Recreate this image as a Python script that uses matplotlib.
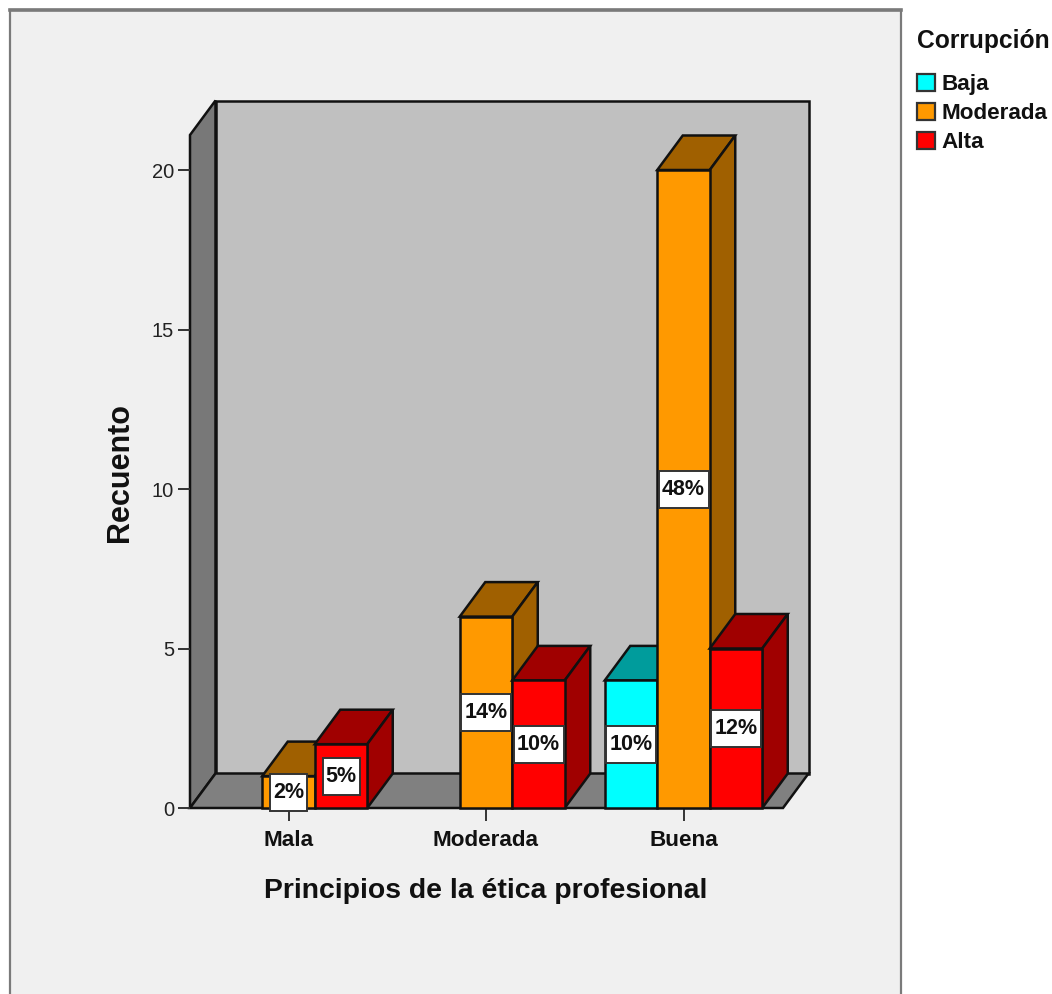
import matplotlib
matplotlib.use("Agg")
import matplotlib.pyplot as plt
from matplotlib.patches import Polygon, Rectangle, Patch

categories = ["Mala", "Moderada", "Buena"]
series = ["Baja", "Moderada", "Alta"]
baja = [0, 0, 4]
moderada = [1, 6, 20]
alta = [2, 4, 5]
pct_baja = ["", "", "10%"]
pct_moderada = ["2%", "14%", "48%"]
pct_alta = ["5%", "10%", "12%"]
y_ticks = [0, 5, 10, 15, 20]

front = ["#00FFFF", "#FF9900", "#FF0000"]
shade = ["#009C9C", "#A06000", "#A00000"]
EDGE = "#111111"
FONT = "Liberation Sans"

W, H = 1052, 994
fig = plt.figure(figsize=(W / 100, H / 100), dpi=100, facecolor="white")
plt.rcParams["font.family"] = FONT

# outer panel
fig.add_artist(Rectangle((10 / W, -0.01), 891 / W, 1 - 10 / H + 0.01, transform=fig.transFigure,
                         facecolor="#F0F0F0", edgecolor="#7A7A7A", linewidth=1.6, zorder=-5))
fig.add_artist(plt.Line2D([10 / W, 901 / W], [1 - 10 / H] * 2, color="#7A7A7A", lw=2.6, zorder=-4))

L, R, T, B = 190, 783, 135, 808
ax = fig.add_axes([L / W, 1 - B / H, (R - L) / W, (B - T) / H], facecolor="none")
PX_X = 197.5          # pixels per category
PX_Y = 31.9           # pixels per count
ax.set_xlim((L - 288.5) / PX_X, (R - 288.5) / PX_X)
ax.set_ylim(0, (B - T) / PX_Y)
x0, x1 = ax.get_xlim()
y0, y1 = ax.get_ylim()
dx, dy = 25.5 / PX_X, 34.5 / PX_Y
bw = 52.5 / PX_X


def poly(pts, fc, z=2, lw=1.8):
    ax.add_patch(Polygon(pts, closed=True, facecolor=fc, edgecolor=EDGE, linewidth=lw,
                         joinstyle="miter", clip_on=False, zorder=z))


# walls and floor
poly([(x0 + dx, y0 + dy), (x1 + dx, y0 + dy), (x1 + dx, y1 + dy), (x0 + dx, y1 + dy)], "#C0C0C0", 1)
poly([(x0, y0), (x0 + dx, y0 + dy), (x0 + dx, y1 + dy), (x0, y1)], "#787878", 1)
poly([(x0, y0), (x1, y0), (x1 + dx, y0 + dy), (x0 + dx, y0 + dy)], "#808080", 1)

z = 3
labels = []
for c in range(len(categories)):
    for s, (vals, pcts) in enumerate(zip((baja, moderada, alta), (pct_baja, pct_moderada, pct_alta))):
        v = vals[c]
        if v == 0:
            continue
        a = c + (s - 1.5) * bw
        b = a + bw
        poly([(a, v), (b, v), (b + dx, v + dy), (a + dx, v + dy)], shade[s], z)
        poly([(b, 0), (b + dx, dy), (b + dx, v + dy), (b, v)], shade[s], z)
        ax.add_patch(Rectangle((a, 0), bw, v, facecolor=front[s], edgecolor=EDGE, linewidth=1.8,
                               clip_on=False, zorder=z))
        z += 1
        labels.append(((a + b) / 2, v / 2, pcts[c]))

for xc, yc, t in labels:
    hw = (25.0 if len(t) > 2 else 18.5) / PX_X
    hh = 18.5 / PX_Y
    ax.add_patch(Rectangle((xc - hw, yc - hh), 2 * hw, 2 * hh, facecolor="white", edgecolor="#333333",
                           linewidth=1.4, clip_on=False, zorder=50))
    ax.text(xc, yc, t, ha="center", va="center", fontsize=15.5, fontweight="bold", color="#111111",
            family=FONT, zorder=51, clip_on=False)

for sp in ax.spines.values():
    sp.set_visible(False)
ax.set_xticks(range(len(categories)), categories)
ax.set_yticks(y_ticks)
ax.tick_params(axis="x", length=9.5, width=1.4, color="#333333", pad=6, labelsize=16.2)
ax.tick_params(axis="y", length=8.5, width=1.4, color="#333333", pad=3, labelsize=14.5, labelcolor="#222222")
for tl in ax.get_xticklabels():
    tl.set_fontweight("bold")
    tl.set_color("#111111")

ax.set_xlabel("Principios de la ética profesional", fontsize=20.4, fontweight="bold", color="#111111", va="center")
ax.xaxis.set_label_coords(0.499, -0.1230)
ax.set_ylabel("Recuento", fontsize=22, fontweight="bold", color="#111111", va="center")
ax.yaxis.set_label_coords(-0.118, 0.499)

handles = [Patch(facecolor=c, edgecolor="#333333", linewidth=1.6) for c in front]
leg = fig.legend(handles, series, title="Corrupción", loc="upper left", bbox_to_anchor=(916.5 / W, 1 - 29 / H),
                 frameon=False, alignment="left", borderpad=0, borderaxespad=0,
                 prop={"family": FONT, "weight": "bold", "size": 16.2},
                 title_fontproperties={"family": FONT, "weight": "bold", "size": 17.7},
                 handlelength=0.8, handleheight=0.82, handletextpad=0.3, labelspacing=0.33)
leg._legend_box.sep = 15
leg.get_title().set_color("#111111")
for t in leg.get_texts():
    t.set_color("#111111")

fig.savefig("out.png", dpi=100, facecolor="white")
